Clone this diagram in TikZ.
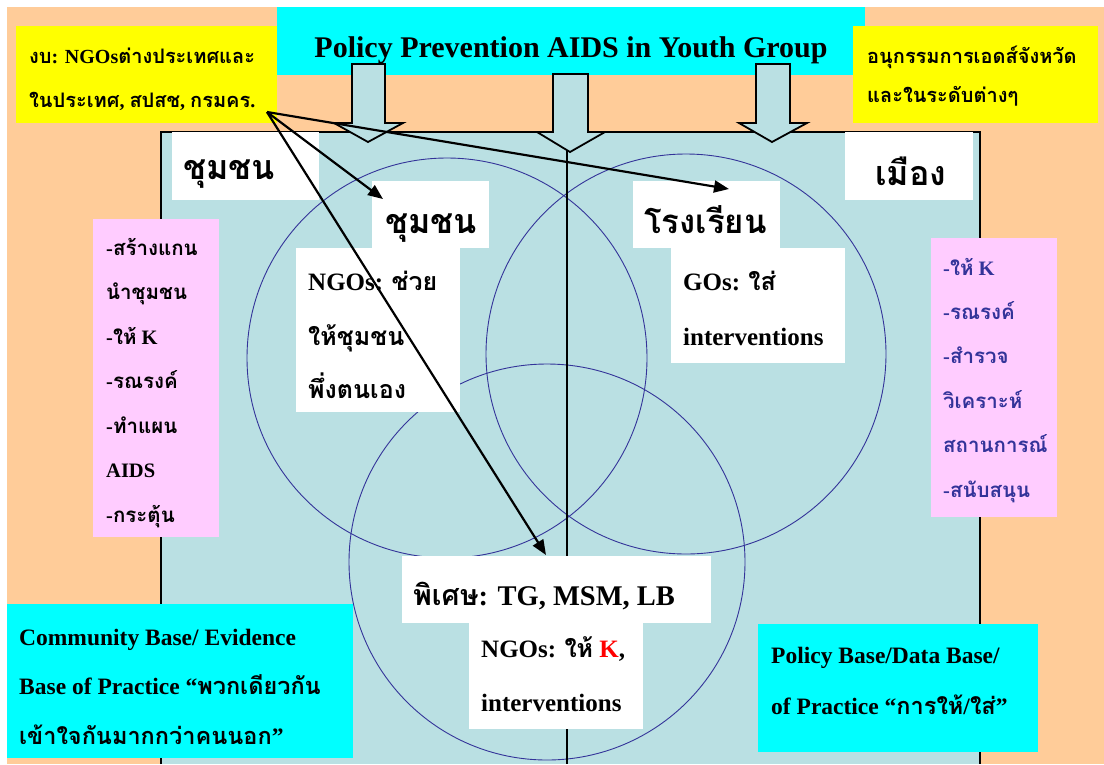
\documentclass[tikz,border=0pt]{standalone}
\usepackage{fontspec}
\setmainfont{Liberation Serif}
\newfontfamily\thaifont[Script=Thai]{Loma}
\usetikzlibrary{arrows.meta}
\definecolor{peach}{RGB}{255,204,153}
\definecolor{cyanbox}{RGB}{0,255,255}
\definecolor{yel}{RGB}{255,255,0}
\definecolor{lblue}{RGB}{186,224,227}
\definecolor{pinkbox}{RGB}{255,204,255}
\definecolor{navy}{RGB}{51,51,153}
\newcommand\T[1]{{\thaifont #1}}
\newcommand\fsz[1]{\fontsize{#1}{#1}\selectfont}
\begin{document}
\begin{tikzpicture}[x=1pt,y=-1pt,
  box/.style={anchor=north west, inner sep=0pt, outer sep=0pt, draw=none},
  txt/.style={anchor=base west, inner sep=0pt, font=\bfseries},
  blockarrow/.style={fill=lblue, draw=black, line width=1.8pt, line join=miter},
  ring/.style={draw=navy, line width=0.9pt},
  link/.style={draw=black, line width=2.2pt, -{Triangle[length=15pt,width=12pt]}}]
\useasboundingbox (0,0) rectangle (1104,764);
\fill[white] (0,0) rectangle (1104,764);
\fill[peach] (7,7) rectangle (1104,764);
% main area
\fill[lblue] (161,132) rectangle (980,764);
\draw[line width=1.6pt] (161,764) -- (161,132) -- (980,132) -- (980,764);
% circles
\draw[ring] (447,358) circle[radius=200];
\draw[ring] (686,354) circle[radius=200];
\draw[ring] (547,562) circle[radius=198];
% title
\node[box, fill=cyanbox, minimum width=588, minimum height=68] (titlebox) at (277,7) {};
\node[txt, anchor=base] (title) at (571,57) {\fsz{30}Policy Prevention AIDS in Youth Group};
% block arrows
\draw[blockarrow] (352,64) -- (385,64) -- (385,123) -- (403,123) -- (368,142) -- (334,123) -- (352,123) -- cycle;
\draw[blockarrow] (553,74) -- (588,74) -- (588,132) -- (605,132) -- (570,152) -- (537,132) -- (553,132) -- cycle;
\draw[blockarrow] (756,64) -- (790,64) -- (790,123) -- (807,123) -- (772,142) -- (739,123) -- (756,123) -- cycle;
\coordinate (vtop) at (567,150);
\coordinate (vbot) at (567,764);
\draw[line width=1.6pt] (vtop) -- (vbot);
% yellow boxes
\node[box, fill=yel, minimum width=261, minimum height=97] (yl) at (16,26) {};
\node[txt] (yl1) at (29,63) {\fsz{20}\T{งบ}: NGOs\T{ต่างประเทศและ}};
\node[txt] (yl2) at (29,107) {\fsz{20}\T{ในประเทศ}, \T{สปสช}, \T{กรมคร}.};
\node[box, fill=yel, minimum width=245, minimum height=97] (yr) at (853,26) {};
\node[txt] (yr1) at (867,63) {\fsz{20}\T{อนุกรรมการเอดส์จังหวัด}};
\node[txt] (yr2) at (867,102) {\fsz{20}\T{และในระดับต่างๆ}};
% white labels
\node[box, fill=white, minimum width=147, minimum height=68] (wl) at (172,132) {};
\node[txt] (wlt) at (183,179) {\fsz{34}\T{ชุมชน}};
\node[box, fill=white, minimum width=128, minimum height=68] (wr) at (845,132) {};
\node[txt] (wrt) at (875,185) {\fsz{34}\T{เมือง}};
\node[box, fill=white, minimum width=117, minimum height=67] (c1) at (372,181) {};
\node[txt] (c1t) at (385,233) {\fsz{34}\T{ชุมชน}};
\node[box, fill=white, minimum width=164, minimum height=164] (c1b) at (296,248) {};
\node[txt] (c1b1) at (308,290) {\fsz{25}NGOs: \T{ช่วย}};
\node[txt] (c1b2) at (308,345) {\fsz{25}\T{ให้ชุมชน}};
\node[txt] (c1b3) at (308,398) {\fsz{25}\T{พึ่งตนเอง}};
\node[box, fill=white, minimum width=147, minimum height=67] (c2) at (633,181) {};
\node[txt] (c2t) at (644,233) {\fsz{33}\T{โรงเรียน}};
\node[box, fill=white, minimum width=174, minimum height=115] (c2b) at (671,248) {};
\node[txt] (c2b1) at (683,290) {\fsz{25}GOs: \T{ใส่}};
\node[txt] (c2b2) at (683,345) {\fsz{25}interventions};
\node[box, fill=white, minimum width=309, minimum height=67] (c3) at (402,556) {};
\node[txt] (c3t) at (413,605) {\fsz{28.5}\T{พิเศษ}: TG, MSM, LB};
\node[box, fill=white, minimum width=174, minimum height=106] (c3b) at (469,623) {};
\node[txt] (c3b1) at (481,657) {\fsz{25}NGOs: \T{ให้} \textcolor{red}{K},};
\node[txt] (c3b2) at (481,711) {\fsz{25}interventions};
% pink lists
\node[box, fill=pinkbox, minimum width=126, minimum height=318] (pl) at (93,219) {};
\foreach \t [count=\i from 0] in {-\T{สร้างแกน},\T{นำชุมชน},-\T{ให้} K,-\T{รณรงค์},-\T{ทำแผน},AIDS,-\T{กระตุ้น}}
  \node[txt] (pl\i) at (106,255+44.5*\i) {\fsz{20.5}\t};
\node[box, fill=pinkbox, minimum width=126, minimum height=279] (pr) at (931,238) {};
\foreach \t [count=\i from 0] in {-\T{ให้} K,-\T{รณรงค์},-\T{สำรวจ},\T{วิเคราะห์},\T{สถานการณ์},-\T{สนับสนุน}}
  \node[txt, text=navy] (pr\i) at (943,275+44.4*\i) {\fsz{20.5}\t};
% bottom cyan boxes
\node[box, fill=cyanbox, minimum width=346, minimum height=154] (bl) at (7,604) {};
\node[txt] (bl1) at (19,645) {\fsz{23.5}Community Base/ Evidence};
\node[txt] (bl2) at (19,694) {\fsz{23.5}Base of Practice “\T{พวกเดียวกัน}};
\node[txt] (bl3) at (19,744) {\fsz{23.5}\T{เข้าใจกันมากกว่าคนนอก}”};
\node[box, fill=cyanbox, minimum width=280, minimum height=128] (br) at (758,624) {};
\node[txt] (br1) at (771,663) {\fsz{23.5}Policy Base/Data Base/};
\node[txt] (br2) at (771,714) {\fsz{23.5}of Practice “\T{การให้}/\T{ใส่}”};
% connectors
\coordinate (src) at (267,112);
\coordinate (tA) at (383,199);
\coordinate (tB) at (546,555);
\coordinate (tC) at (729,189);
\draw[link] (src) -- (tA);
\draw[link] (src) -- (tB);
\draw[link] (src) -- (tC);
\end{tikzpicture}
\end{document}
